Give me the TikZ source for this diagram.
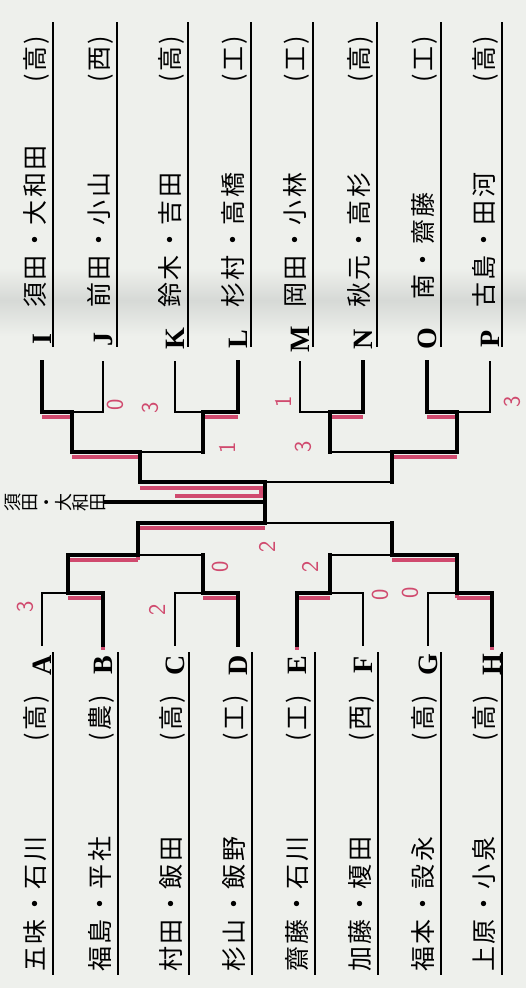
\documentclass[tikz,border=0pt]{standalone}
\usepackage{fontspec}
\newfontfamily\jp[LetterSpace=10]{Noto Sans CJK JP}
\newfontfamily\jpwin{Noto Sans CJK JP}
\newfontfamily\lab{Liberation Serif}
\usetikzlibrary{calc}
\definecolor{paper}{RGB}{238,240,236}
\definecolor{shadow}{RGB}{214,217,214}
\definecolor{pen}{RGB}{208,74,110}
\tikzset{
  wire/.style={line width=1.8pt, line cap=rect},
  won/.style={line width=4pt, line cap=rect},
  redpen/.style={line width=4.5pt, pen, transform canvas={yshift=-5pt}},
  rule/.style={line width=1.3pt},
  entry/.style={rotate=90, anchor=base west, inner sep=0pt, font=\jp\fontsize{25}{25}\selectfont},
  letter/.style={rotate=90, inner sep=0pt, minimum width=30pt, font=\lab\bfseries\fontsize{28}{28}\selectfont},
  champ/.style={rotate=90, anchor=south, inner sep=0pt, align=center, font=\jpwin\fontsize{18}{17}\selectfont},
  score/.style={rotate=90, inner sep=0pt, text=pen, font=\sffamily\fontsize{24}{24}\selectfont},
}
\begin{document}
\begin{tikzpicture}[x=1pt, y=-1pt]
  \fill[paper] (0,0) rectangle (526,988);
  \useasboundingbox (0,0) rectangle (526,988);
  \shade[top color=paper, bottom color=shadow] (0,268) rectangle (526,300);
  \shade[top color=shadow, bottom color=paper] (0,300) rectangle (526,336);

  % rules under the names
  \draw[rule] (53,22) -- (53,347);
  \draw[rule] (117,22) -- (117,347);
  \draw[rule] (188,22) -- (188,347);
  \draw[rule] (251,22) -- (251,347);
  \draw[rule] (313,22) -- (313,347);
  \draw[rule] (377,22) -- (377,347);
  \draw[rule] (441,22) -- (441,347);
  \draw[rule] (502,22) -- (502,347);
  \draw[rule] (53,652) -- (53,975);
  \draw[rule] (118,652) -- (118,975);
  \draw[rule] (189,652) -- (189,975);
  \draw[rule] (252,652) -- (252,975);
  \draw[rule] (315,652) -- (315,975);
  \draw[rule] (378,652) -- (378,975);
  \draw[rule] (441,652) -- (441,975);
  \draw[rule] (502,652) -- (502,975);

  % pairs
  \node[entry] (nI) at (44,308) {\makebox[272pt][l]{須田・大和田\hfill(高)}};
  \node[entry] (nJ) at (108,308) {\makebox[272pt][l]{前田・小山\hfill(西)}};
  \node[entry] (nK) at (179,308) {\makebox[272pt][l]{鈴木・吉田\hfill(高)}};
  \node[entry] (nL) at (242,308) {\makebox[272pt][l]{杉村・高橋\hfill(工)}};
  \node[entry] (nM) at (304,308) {\makebox[272pt][l]{岡田・小林\hfill(工)}};
  \node[entry] (nN) at (368,308) {\makebox[272pt][l]{秋元・高杉\hfill(高)}};
  \node[entry] (nO) at (432,300) {\makebox[264pt][l]{南・齋藤\hfill(工)}};
  \node[entry] (nP) at (493,308) {\makebox[272pt][l]{古島・田河\hfill(高)}};
  \node[entry] (nA) at (44,972) {\makebox[277pt][l]{五味・石川\hfill(高)}};
  \node[entry] (nB) at (109,972) {\makebox[277pt][l]{福島・平社\hfill(農)}};
  \node[entry] (nC) at (180,972) {\makebox[277pt][l]{村田・飯田\hfill(高)}};
  \node[entry] (nD) at (243,972) {\makebox[277pt][l]{杉山・飯野\hfill(工)}};
  \node[entry] (nE) at (306,972) {\makebox[277pt][l]{齋藤・石川\hfill(工)}};
  \node[entry] (nF) at (369,972) {\makebox[277pt][l]{加藤・榎田\hfill(西)}};
  \node[entry] (nG) at (432,972) {\makebox[277pt][l]{福本・設永\hfill(高)}};
  \node[entry] (nH) at (493,972) {\makebox[277pt][l]{上原・小泉\hfill(高)}};

  % letters
  \node[letter] (I) at (42,339) {I};
  \node[letter] (J) at (103,339) {J};
  \node[letter] (K) at (175,339) {K};
  \node[letter] (L) at (238,339) {L};
  \node[letter] (M) at (300,339) {M};
  \node[letter] (N) at (363,339) {N};
  \node[letter] (O) at (427,339) {O};
  \node[letter] (P) at (490,339) {P};
  \node[letter] (A) at (42,665) {A};
  \node[letter] (B) at (103,665) {B};
  \node[letter] (C) at (175,665) {C};
  \node[letter] (D) at (238,665) {D};
  \node[letter] (E) at (297,665) {E};
  \node[letter] (F) at (363,665) {F};
  \node[letter] (G) at (428,665) {G};
  \node[letter] (H) at (492,665) {H};

  % matches
  \coordinate (IJ) at (72,412);
  \coordinate (KL) at (203,412);
  \coordinate (MN) at (330,412);
  \coordinate (OP) at (457,412);
  \coordinate (IL) at (140,452);
  \coordinate (MP) at (392,452);
  \coordinate (top) at (265,482);
  \coordinate (AB) at (68,593);
  \coordinate (CD) at (203,593);
  \coordinate (EF) at (330,593);
  \coordinate (GH) at (457,593);
  \coordinate (AD) at (138,555);
  \coordinate (EH) at (392,555);
  \coordinate (bot) at (265,523);

  \node[champ] (champ) at (106,502) {須\\田\\・\\大\\和\\田};

  % losers
  \draw[wire, shorten <=8pt] (J.west) |- (IJ);
  \draw[wire, shorten <=8pt] (K.west) |- (KL);
  \draw[wire, shorten <=8pt] (M.west) |- (MN);
  \draw[wire, shorten <=8pt] (P.west) |- (OP);
  \draw[wire, shorten <=5pt] (A.east) |- (AB);
  \draw[wire, shorten <=5pt] (C.east) |- (CD);
  \draw[wire, shorten <=5pt] (F.east) |- (EF);
  \draw[wire, shorten <=5pt] (G.east) |- (GH);
  \draw[wire] (KL) |- (IL);
  \draw[wire] (MN) |- (MP);
  \draw[wire] (MP) |- (top);
  \draw[wire] (CD) |- (AD);
  \draw[wire] (EF) |- (EH);
  \draw[wire] (EH) |- (bot);

  % red pen
  \draw[redpen] (I.west |- IJ) -- (IJ);
  \draw[redpen] (IJ |- IL) -- (IL);
  \draw[redpen] (KL) -- (L.west |- KL);
  \draw[redpen] (MN) -- (N.west |- MN);
  \draw[redpen] (O.west |- OP) -- (OP);
  \draw[redpen] (MP) -- (OP |- MP);
  \draw[redpen, shorten <=5pt] (B.east) |- (AB);
  \draw[redpen] (AB |- AD) -- (AD);
  \draw[redpen] (AD) |- (bot);
  \draw[redpen] (D.east |- CD) -- (CD);
  \draw[redpen, shorten <=5pt] (E.east) |- (EF);
  \draw[redpen, shorten <=5pt] (H.east) |- (GH);
  \draw[redpen] (GH) |- (EH);
  \draw[pen, line width=4.5pt] ($(IL |- top)+(0,6)$) -| ($(top)+(-4,14)$) -- ($(top)+(-90,14)$);

  % winners
  \draw[won, shorten <=8pt] (I.west) |- (IJ);
  \draw[won, shorten <=8pt] (L.west) |- (KL);
  \draw[won, shorten <=8pt] (N.west) |- (MN);
  \draw[won, shorten <=8pt] (O.west) |- (OP);
  \draw[won, shorten <=5pt] (B.east) |- (AB);
  \draw[won, shorten <=5pt] (D.east) |- (CD);
  \draw[won, shorten <=5pt] (E.east) |- (EF);
  \draw[won, shorten <=5pt] (H.east) |- (GH);
  \draw[won] (IJ) |- (IL);
  \draw[won] (OP) |- (MP);
  \draw[won] (AB) |- (AD);
  \draw[won] (GH) |- (EH);
  \draw[won] (KL) -- (KL |- IL);
  \draw[won] (MN) -- (MN |- MP);
  \draw[won] (CD) -- (CD |- AD);
  \draw[won] (EF) -- (EF |- EH);
  \draw[won] (MP) -- (MP |- top);
  \draw[won] (EH) -- (EH |- bot);
  \draw[won] (IL) |- (top);
  \draw[won] (AD) |- (bot);
  \draw[won] (top) -- (bot);
  \draw[won] (champ.south) -- (champ.south -| top);

  % scores
  \node[score] (s1) at (115,405) {0};
  \node[score] (s2) at (150,408) {3};
  \node[score] (s3) at (227,448) {1};
  \node[score] (s4) at (283,402) {1};
  \node[score] (s5) at (303,447) {3};
  \node[score] (s6) at (512,402) {3};
  \node[score] (s7) at (25,607) {3};
  \node[score] (s8) at (157,610) {2};
  \node[score] (s9) at (220,567) {0};
  \node[score] (s10) at (267,547) {2};
  \node[score] (s11) at (310,567) {2};
  \node[score] (s12) at (380,595) {0};
  \node[score] (s13) at (410,593) {0};
\end{tikzpicture}
\end{document}
